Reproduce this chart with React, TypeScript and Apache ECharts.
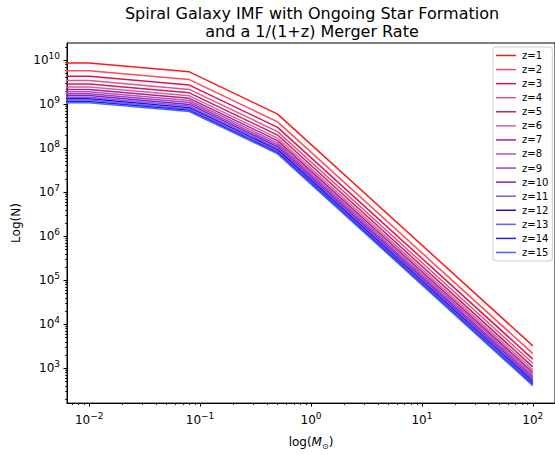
import React, { useEffect, useRef } from 'react';
import * as echarts from 'echarts';

// Stellar masses (M_sun) at which the IMF was sampled
const masses = [0.001, 0.01, 0.08, 0.5, 100];
const redshiftLabels = ['z=1', 'z=2', 'z=3', 'z=4', 'z=5', 'z=6', 'z=7', 'z=8', 'z=9', 'z=10', 'z=11', 'z=12', 'z=13', 'z=14', 'z=15'];

// Number of stars N at each mass, one array per redshift
const nZ1 = [8.65e9, 8.65e9, 5.43e9, 5.96e8, 3240];
const nZ2 = [5.77e9, 5.77e9, 3.62e9, 3.97e8, 2160];
const nZ3 = [4.33e9, 4.33e9, 2.72e9, 2.98e8, 1620];
const nZ4 = [3.46e9, 3.46e9, 2.17e9, 2.38e8, 1300];
const nZ5 = [2.88e9, 2.88e9, 1.81e9, 1.99e8, 1080];
const nZ6 = [2.47e9, 2.47e9, 1.55e9, 1.7e8, 926];
const nZ7 = [2.16e9, 2.16e9, 1.36e9, 1.49e8, 810];
const nZ8 = [1.92e9, 1.92e9, 1.21e9, 1.32e8, 720];
const nZ9 = [1.73e9, 1.73e9, 1.09e9, 1.19e8, 648];
const nZ10 = [1.57e9, 1.57e9, 9.87e8, 1.08e8, 589];
const nZ11 = [1.44e9, 1.44e9, 9.05e8, 9.93e7, 540];
const nZ12 = [1.33e9, 1.33e9, 8.35e8, 9.17e7, 498];
const nZ13 = [1.24e9, 1.24e9, 7.76e8, 8.51e7, 463];
const nZ14 = [1.15e9, 1.15e9, 7.24e8, 7.95e7, 432];
const nZ15 = [1.08e9, 1.08e9, 6.79e8, 7.45e7, 405];
const seriesCounts = [nZ1, nZ2, nZ3, nZ4, nZ5, nZ6, nZ7, nZ8, nZ9, nZ10, nZ11, nZ12, nZ13, nZ14, nZ15];

const lineColors = [
  '#ff1a1a', '#ff4a5a', '#e0124e', '#e25584', '#c41f66',
  '#d062a4', '#b01f84', '#b452b8', '#a03ec4', '#8124c6',
  '#8456e2', '#3408d6', '#6464fa', '#2222ee', '#4a64ff',
];

const xMajorTicks = [0.01, 0.1, 1, 10, 100];
const yMajorTicks = [1e3, 1e4, 1e5, 1e6, 1e7, 1e8, 1e9, 1e10];

const X_MIN = Math.pow(10, -2.2);
const X_MAX = Math.pow(10, 2.2);
const Y_MIN = Math.pow(10, 2.21);
const Y_MAX = Math.pow(10, 10.39);

function minorTicks(lo: number, hi: number, kFrom: number, kTo: number) {
  const out: number[] = [];
  for (let k = kFrom; k <= kTo; k++) {
    for (let m = 2; m <= 9; m++) {
      const v = m * Math.pow(10, k);
      if (v > lo && v < hi) out.push(v);
    }
  }
  return out;
}

const FONT = "'DejaVu Sans', sans-serif";

function powLabel(v: number) {
  const e = Math.round(Math.log10(v));
  const s = e < 0 ? '\u2212' + Math.abs(e) : String(e);
  return '10{sup|' + s + '}';
}

export default function App() {
  const ref = useRef<HTMLDivElement>(null);
  useEffect(() => {
    document.body.style.margin = '0';
    const chart = echarts.init(ref.current!, null, { renderer: 'svg' });
    const xMinor = minorTicks(X_MIN, X_MAX, -3, 2);
    const yMinor = minorTicks(Y_MIN, Y_MAX, 2, 10);
    const supRich = {
      sup: { fontSize: 9, fontFamily: FONT, color: '#000', verticalAlign: 'top', lineHeight: 9 },
    };
    const series: any[] = seriesCounts.map((arr, i) => ({
      type: 'line',
      name: redshiftLabels[i],
      data: masses.map((m, j) => [m, arr[j]]),
      showSymbol: false,
      symbol: 'none',
      lineStyle: { width: 1.5, color: lineColors[i] },
      itemStyle: { color: lineColors[i] },
      clip: true,
      z: 2 + i,
    }));
    chart.setOption({
      animation: false,
      backgroundColor: '#fff',
      title: {
        text: 'Spiral Galaxy IMF with Ongoing Star Formation\nand a 1/(1+z) Merger Rate',
        left: 312,
        textAlign: 'center',
        top: 4,
        padding: 0,
        textStyle: { fontFamily: FONT, fontSize: 16, fontWeight: 'normal', color: '#000', lineHeight: 18 },
      },
      grid: {
        left: 67, top: 43, width: 490, height: 364,
        show: true, borderColor: '#000', borderWidth: 1, backgroundColor: 'transparent',
      },
      legend: {
        orient: 'vertical',
        left: 493,
        top: 47,
        data: redshiftLabels,
        icon: 'rect',
        itemWidth: 20,
        itemHeight: 1.5,
        itemGap: 3.07,
        padding: [3, 4, 3, 3],
        borderColor: '#cccccc',
        borderWidth: 1,
        borderRadius: 3,
        backgroundColor: 'rgba(255,255,255,0.8)',
        textStyle: { fontFamily: FONT, fontSize: 10, color: '#000', lineHeight: 11, padding: [0, 0, 0, 1] },
      },
      xAxis: [
        {
          type: 'log',
          min: X_MIN,
          max: X_MAX,
          name: 'log({it|M}{sub|\u2299})',
          nameLocation: 'middle',
          nameGap: 25,
          nameTextStyle: {
            fontFamily: FONT, fontSize: 12, color: '#000', lineHeight: 16,
            rich: {
              it: { fontFamily: FONT, fontSize: 12, fontStyle: 'italic', color: '#000' },
              sub: { fontFamily: FONT, fontSize: 8, color: '#000', verticalAlign: 'bottom', lineHeight: 8 },
            },
          },
          axisLine: { show: true, lineStyle: { color: '#000', width: 1 } },
          axisTick: { show: true, length: 3.5, customValues: xMajorTicks, lineStyle: { color: '#000', width: 1 } },
          axisLabel: {
            customValues: xMajorTicks,
            formatter: powLabel,
            fontFamily: FONT, fontSize: 12, color: '#000', lineHeight: 18, margin: 8,
            rich: supRich,
          },
          splitLine: { show: false },
          minorTick: { show: false },
        },
        {
          type: 'log',
          min: X_MIN,
          max: X_MAX,
          position: 'bottom',
          axisLine: { show: false },
          axisTick: { show: true, length: 2, customValues: xMinor, lineStyle: { color: '#000', width: 0.8 } },
          axisLabel: { show: false },
          splitLine: { show: false },
        },
      ],
      yAxis: [
        {
          type: 'log',
          min: Y_MIN,
          max: Y_MAX,
          name: 'Log(N)',
          nameLocation: 'middle',
          nameGap: 44,
          nameRotate: 90,
          nameTextStyle: { fontFamily: FONT, fontSize: 12, color: '#000' },
          axisLine: { show: true, lineStyle: { color: '#000', width: 1 } },
          axisTick: { show: true, length: 3.5, customValues: yMajorTicks, lineStyle: { color: '#000', width: 1 } },
          axisLabel: {
            customValues: yMajorTicks,
            formatter: powLabel,
            fontFamily: FONT, fontSize: 12, color: '#000', lineHeight: 18, margin: 7,
            rich: supRich,
          },
          splitLine: { show: false },
        },
        {
          type: 'log',
          min: Y_MIN,
          max: Y_MAX,
          position: 'left',
          axisLine: { show: false },
          axisTick: { show: true, length: 2, customValues: yMinor, lineStyle: { color: '#000', width: 0.8 } },
          axisLabel: { show: false },
          splitLine: { show: false },
        },
      ],
      series,
    });
    return () => chart.dispose();
  }, []);
  return <div ref={ref} style={{ width: 555, height: 455 }} />;
}
